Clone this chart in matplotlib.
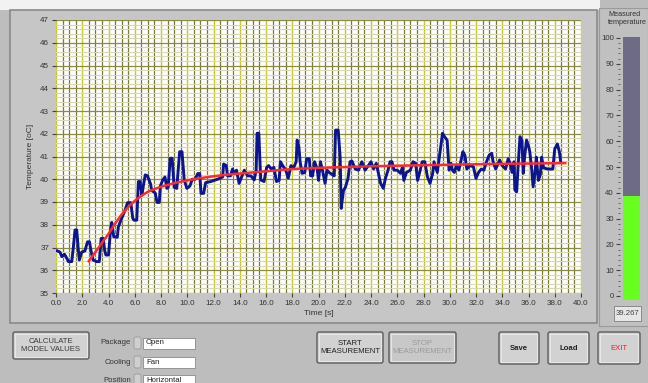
# Temperature measurement panel: measured trace, model fit and thermometer gauge
import matplotlib.pyplot as plt
from matplotlib.patches import Rectangle, FancyBboxPatch
from matplotlib.ticker import MultipleLocator, FormatStrFormatter

W, H = 648, 383

# measured temperature trace
time_s = [0.1, 0.3, 0.45, 0.65, 0.8, 0.95, 1.2, 1.32, 1.45, 1.58, 1.7, 1.78, 1.96, 2.2,
          2.4, 2.55, 2.7, 2.83, 3.1, 3.3, 3.44, 3.6, 3.7, 3.8, 4.0, 4.17, 4.25, 4.4,
          4.67, 4.75, 5.0, 5.27, 5.45, 5.7, 5.85, 5.95, 6.15, 6.28, 6.4, 6.55, 6.65,
          6.8, 6.97, 7.2, 7.3, 7.56, 7.7, 7.87, 7.95, 8.14, 8.3, 8.45, 8.55, 8.7, 8.85,
          9.0, 9.2, 9.42, 9.6, 9.77, 9.97, 10.2, 10.38, 10.6, 10.8, 10.95, 11.05, 11.25,
          11.4, 11.8, 12.05, 12.4, 12.7, 12.77, 12.97, 13.07, 13.3, 13.45, 13.55, 13.75,
          13.95, 14.1, 14.35, 14.6, 14.85, 15.1, 15.25, 15.32, 15.45, 15.6, 15.85, 16.05,
          16.2, 16.4, 16.6, 16.8, 17.0, 17.1, 17.27, 17.5, 17.7, 17.9, 18.1, 18.3, 18.37,
          18.5, 18.6, 18.75, 18.95, 19.1, 19.3, 19.4, 19.55, 19.7, 19.9, 20.0, 20.15,
          20.3, 20.5, 20.65, 20.8, 21.2, 21.3, 21.5, 21.65, 21.73, 21.9, 22.05, 22.25,
          22.4, 22.55, 22.8, 23.05, 23.3, 23.55, 23.8, 24.0, 24.2, 24.4, 24.73, 24.94,
          25.1, 25.3, 25.45, 25.6, 25.75, 26.0, 26.25, 26.4, 26.5, 26.7, 27.0, 27.2,
          27.4, 27.55, 27.75, 27.9, 28.1, 28.3, 28.5, 28.7, 28.8, 29.05, 29.26, 29.45,
          29.6, 29.8, 29.95, 30.1, 30.2, 30.35, 30.5, 30.7, 31.0, 31.15, 31.3, 31.5,
          31.8, 32.0, 32.2, 32.4, 32.6, 32.8, 33.0, 33.2, 33.3, 33.5, 33.8, 34.0, 34.25,
          34.45, 34.6, 34.75, 34.9, 34.96, 35.1, 35.2, 35.35, 35.5, 35.6, 35.7, 35.85,
          35.98, 36.1, 36.25, 36.35, 36.5, 36.6, 36.75, 36.9, 37.0, 37.15, 37.45, 37.85,
          38.0, 38.2, 38.35, 38.45]
temp_c = [36.85, 36.8, 36.6, 36.7, 36.55, 36.38, 36.38, 37.0, 37.77, 37.77, 36.9, 36.45,
          36.8, 36.85, 37.25, 37.25, 36.75, 36.45, 36.38, 36.38, 37.4, 37.4, 36.9, 36.67,
          36.67, 37.85, 38.1, 37.47, 37.45, 37.9, 38.28, 38.65, 38.97, 38.97, 38.28, 38.2,
          38.2, 39.9, 39.9, 39.3, 39.7, 40.19, 40.15, 39.8, 39.5, 39.4, 38.98, 38.98, 39.7,
          39.97, 40.1, 39.6, 39.65, 40.92, 40.92, 39.65, 39.6, 41.21, 41.21, 39.97, 39.6,
          39.7, 40.0, 40.0, 40.25, 40.25, 39.38, 39.38, 39.85, 39.9, 39.95, 40.02, 40.1,
          40.67, 40.6, 40.15, 40.15, 40.45, 40.25, 40.4, 39.82, 40.04, 40.4, 40.15, 40.15,
          39.97, 40.4, 42.02, 42.02, 39.97, 39.9, 40.52, 40.6, 40.45, 40.52, 39.9, 39.95,
          40.77, 40.6, 40.4, 40.05, 40.6, 40.5, 40.77, 41.72, 41.43, 40.77, 40.26, 40.3,
          40.9, 40.9, 40.15, 40.15, 40.77, 40.45, 39.95, 40.77, 40.4, 39.82, 40.4, 40.3,
          40.15, 42.16, 42.16, 40.97, 38.72, 39.5, 39.65, 40.04, 40.77, 40.8, 40.45, 40.4,
          40.77, 40.4, 40.6, 40.77, 40.45, 40.7, 39.82, 39.6, 40.04, 40.4, 40.77, 40.77,
          40.4, 40.4, 40.26, 40.55, 39.95, 40.3, 40.4, 40.77, 40.7, 39.95, 40.4, 40.77,
          40.77, 40.1, 39.82, 40.26, 40.77, 40.3, 41.21, 42.02, 41.87, 41.72, 40.4, 40.7,
          40.4, 40.3, 40.6, 40.4, 41.21, 41.06, 40.45, 40.6, 40.55, 40.04, 40.3, 40.45,
          40.4, 40.77, 41.06, 41.14, 40.77, 40.45, 40.85, 40.6, 40.45, 40.9, 40.7, 40.3,
          40.77, 39.53, 39.45, 40.5, 41.87, 41.72, 40.26, 40.97, 41.72, 41.5, 41.21, 40.4,
          39.67, 40.3, 40.97, 39.95, 40.2, 40.97, 40.5, 40.45, 40.45, 41.33, 41.55, 41.21,
          40.77]

# model curve
model_t = [2.5, 3.0, 3.5, 4.0, 4.5, 5.0, 5.5, 6.0, 6.5, 7.0, 7.5, 8.0, 9.0, 10.0, 11.0,
           12.0, 13.0, 14.0, 16.0, 18.0, 20.0, 24.0, 28.0, 32.0, 36.0, 38.8]
model_v = [36.4, 36.8, 37.2, 37.6, 38.05, 38.45, 38.78, 39.05, 39.27, 39.45, 39.57,
           39.67, 39.83, 39.95, 40.05, 40.13, 40.2, 40.25, 40.35, 40.45, 40.5, 40.57,
           40.62, 40.66, 40.69, 40.71]

gauge_value = 39.267
package, cooling, position = "Open", "Fan", "Horizontal"

TXT = "#333333"
plt.rcParams['font.family'] = ['Liberation Sans', 'DejaVu Sans']


def frac(x0, y0, x1, y1):
    return [x0 / W, 1 - y1 / H, (x1 - x0) / W, (y1 - y0) / H]


fig = plt.figure(figsize=(W / 100, H / 100), dpi=100)
fig.patch.set_facecolor("#bdbdbd")

# background panels, in pixel coordinates
bg = fig.add_axes([0, 0, 1, 1])
bg.set_xlim(0, W)
bg.set_ylim(H, 0)
bg.axis("off")
bg.add_patch(Rectangle((0, 0), 600, 10, fc="#f2f2f2", ec="none"))
bg.add_patch(Rectangle((10, 10), 587, 313, fc="#c6c6c6", ec="#8a8a8a", lw=1.2))
bg.add_patch(Rectangle((599, 8), 49, 318, fc="#c0c0c0", ec="#9a9a9a", lw=0.8))


def button(x0, y0, x1, y1, label, color="#222222", weight="normal", face="#d2d2d2"):
    bg.add_patch(FancyBboxPatch((x0, y0), x1 - x0, y1 - y0,
                                boxstyle="round,pad=0,rounding_size=2",
                                fc=face, ec="#5c5c5c", lw=1.0))
    bg.add_patch(Rectangle((x0 + 2, y0 + 2), x1 - x0 - 4, y1 - y0 - 4,
                           fc="none", ec="#ececec", lw=0.6))
    bg.text((x0 + x1) / 2, (y0 + y1) / 2, label, ha="center", va="center",
            fontsize=5.6, color=color, weight=weight, linespacing=1.1)


button(13, 332, 89, 359, "CALCULATE\nMODEL VALUES", color="#3a3a3a")
button(317, 332, 383, 363, "START\nMEASUREMENT")
button(389, 332, 456, 363, "STOP\nMEASUREMENT", color="#9a9a9a", face="#c8c8c8")
button(499, 332, 539, 364, "Save", weight="bold")
button(548, 332, 589, 364, "Load", weight="bold")
button(598, 332, 640, 364, "EXIT", color="#e8202a")

# selector rows under the chart
for yc, name, value in [(343, "Package", package), (362, "Cooling", cooling),
                        (380, "Position", position)]:
    bg.text(131, yc, name, ha="right", va="center", fontsize=5.6, color=TXT)
    bg.add_patch(FancyBboxPatch((134, yc - 6), 7, 12, boxstyle="round,pad=0,rounding_size=2",
                                fc="#cfcfcf", ec="#9a9a9a", lw=0.6))
    bg.add_patch(Rectangle((143, yc - 5.5), 52, 11, fc="white", ec="#8a8a8a", lw=0.6))
    bg.text(146, yc, value, ha="left", va="center", fontsize=5.6, color="#222222")

bg.text(608, 11, "Measured\ntemperature", ha="left", va="top", fontsize=5.2,
        color=TXT, linespacing=1.1)
bg.add_patch(Rectangle((614, 306), 27, 15, fc="#e6e6e6", ec="#8a8a8a", lw=0.7))
bg.text(627.5, 313.5, f"{gauge_value:.3f}", ha="center", va="center", fontsize=5.6,
        color="#444444")

# main chart
ax = fig.add_axes(frac(56, 20, 581, 293))
ax.set_facecolor("white")
ax.plot(time_s, temp_c, color="#0c1590", lw=2.1, zorder=3)
ax.plot(model_t, model_v, color="#ff2a2a", lw=1.8, zorder=4)
ax.set_xlim(0, 40)
ax.set_ylim(35, 47)
ax.xaxis.set_major_locator(MultipleLocator(2))
ax.xaxis.set_minor_locator(MultipleLocator(0.5))
ax.xaxis.set_major_formatter(FormatStrFormatter("%.1f"))
ax.yaxis.set_major_locator(MultipleLocator(1))
ax.yaxis.set_minor_locator(MultipleLocator(0.2))
ax.grid(which="minor", axis="y", color="#d8d8b4", lw=0.8, zorder=0)
ax.grid(which="major", axis="y", color="#8c8c44", lw=0.9, zorder=1)
ax.grid(which="minor", axis="x", color="#78783a", lw=0.9, zorder=1)
ax.grid(which="major", axis="x", color="#c8c820", lw=1.0, zorder=1)
ax.set_axisbelow(True)
for s in ax.spines.values():
    s.set_visible(False)
ax.tick_params(which="major", length=3, width=0.8, color="#444444", labelsize=5.8,
               labelcolor=TXT, pad=2)
ax.tick_params(which="minor", length=0)
ax.set_xlabel("Time [s]", fontsize=6, color=TXT, labelpad=2)
ax.set_ylabel("Temperature [oC]", fontsize=6, color=TXT, labelpad=4)

# thermometer gauge
gx = fig.add_axes(frac(623, 38, 640, 296))
gx.set_xlim(0, 1)
gx.set_ylim(0, 100)
gx.bar(0.5, 101.5, width=1, bottom=-1, color="#6d6b85", clip_on=False)
gx.bar(0.5, gauge_value + 1, width=1, bottom=-1.5, color="#66ff1e", clip_on=False)
gx.set_facecolor("none")
for s in gx.spines.values():
    s.set_visible(False)
gx.set_xticks([])
gx.yaxis.set_major_locator(MultipleLocator(10))
gx.yaxis.set_minor_locator(MultipleLocator(2))
gx.tick_params(axis="y", which="major", length=3, width=0.8, color="#444444",
               labelsize=5.6, labelcolor=TXT, pad=1.5)
gx.tick_params(axis="y", which="minor", length=1.5, width=0.6, color="#555555")
gx.spines["left"].set_position(("outward", 2))

fig.savefig("out.png", dpi=100, facecolor=fig.get_facecolor())
